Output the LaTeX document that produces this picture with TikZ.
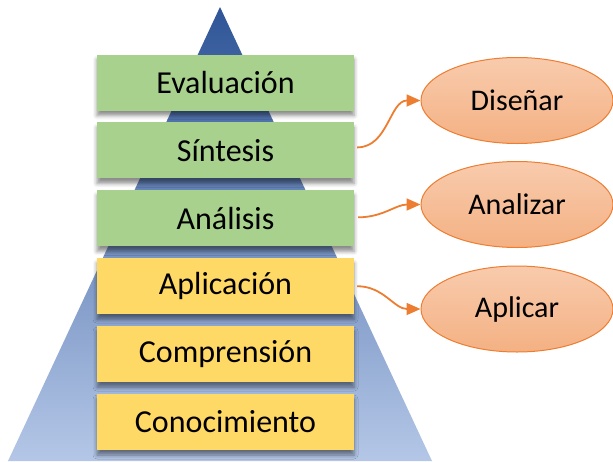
\documentclass[tikz,border=0pt]{standalone}
\usepackage{fontspec}
\setmainfont{Carlito}
\usepackage{tikz}
\usetikzlibrary{arrows.meta,positioning,shapes.geometric,shadows.blur}
\definecolor{Ink}{HTML}{000000}
\definecolor{PyrTop}{HTML}{2F5597}
\definecolor{PyrMid}{HTML}{97AEDB}
\definecolor{PyrBase}{HTML}{B4C7E7}
\definecolor{Leaf}{HTML}{A9D18E}
\definecolor{Sun}{HTML}{FFD966}
\definecolor{Peach}{HTML}{F8CBAD}
\definecolor{PeachDeep}{HTML}{F4B183}
\definecolor{Orange}{HTML}{ED7D31}
\tikzset{
  level/.style={rectangle,minimum width=257pt,minimum height=56pt,inner sep=0pt,text=Ink,
    font=\fontsize{32}{36}\selectfont,
    blur shadow={shadow xshift=0pt,shadow yshift=-5pt,shadow blur radius=4pt,shadow opacity=45}},
  levelgreen/.style={level,fill=Leaf},
  levelyellow/.style={level,fill=Sun},
  verb/.style={ellipse,draw=Orange,line width=1pt,top color=Peach,bottom color=PeachDeep,
    minimum width=192pt,minimum height=86pt,inner sep=0pt,text=Ink,font=\fontsize{30}{34}\selectfont},
  link/.style={-{Triangle[length=14pt,width=12pt]},line width=1.8pt,draw=Orange,out=0,in=180}
}
\begin{document}
\begin{tikzpicture}[x=1pt,y=-1pt]
\useasboundingbox (0,0) rectangle (613,461);
\clip (0,0) rectangle (613,461);
% pyramid behind the levels
\shade[top color=PyrTop,middle color=PyrMid,bottom color=PyrBase] (220,7) -- (8,461) -- (432,461) -- cycle;
% levels, top to bottom
\node[levelgreen] (eval) at (225.5,82.5) {Evaluación};
\node[levelgreen,below=11.5pt of eval] (sint) {Síntesis};
\node[levelgreen,below=11.5pt of sint] (anal) {Análisis};
\node[levelyellow,below=11.5pt of anal] (apli) {Aplicación};
\node[levelyellow,below=11.5pt of apli] (comp) {Comprensión};
\node[levelyellow,below=11.5pt of comp] (cono) {Conocimiento};
% verbs on the right
\node[verb] (dis) at (517,100.5) {Diseñar};
\node[verb] (ana) at (517,204.5) {Analizar};
\node[verb] (apl) at (517,309) {Aplicar};
\draw[link] ([xshift=3pt,yshift=3pt]sint.east) to (dis.west);\draw[link] ([xshift=4pt,yshift=1pt]anal.east) to (ana.west);\draw[link] ([xshift=3pt]apli.east) to (apl.west);
\end{tikzpicture}
\end{document}
